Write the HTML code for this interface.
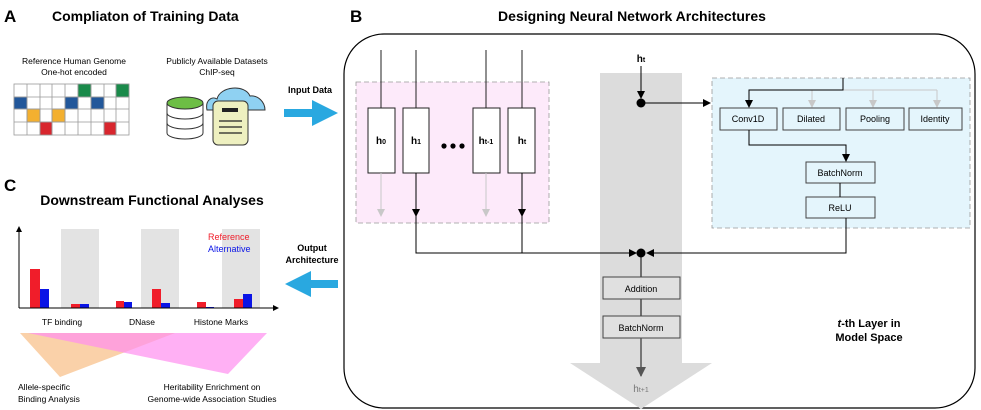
<!DOCTYPE html>
<html><head><meta charset="utf-8"><style>
html,body{margin:0;padding:0;background:#fff;}
svg{display:block;font-family:"Liberation Sans",Arial,sans-serif;}
</style></head><body>
<svg width="981" height="410" viewBox="0 0 981 410" xmlns="http://www.w3.org/2000/svg">
<defs>
<marker id="ab" markerWidth="8" markerHeight="8" refX="7" refY="4" orient="auto" markerUnits="userSpaceOnUse"><path d="M0,0 L8,4 L0,8 z" fill="#000"/></marker>
<marker id="ag" markerWidth="8" markerHeight="8" refX="7" refY="4" orient="auto" markerUnits="userSpaceOnUse"><path d="M0,0 L8,4 L0,8 z" fill="#c8c8c8"/></marker>
<marker id="ad" markerWidth="10" markerHeight="10" refX="9" refY="5" orient="auto" markerUnits="userSpaceOnUse"><path d="M0,0 L10,5 L0,10 z" fill="#555"/></marker>
</defs>

<!-- Panel A -->
<text x="4" y="22" font-size="17" font-weight="bold">A</text>
<text x="52" y="21" font-size="14" font-weight="bold">Compliaton of Training Data</text>
<text x="74" y="64" font-size="8.5" text-anchor="middle">Reference Human Genome</text>
<text x="74" y="75" font-size="8.5" text-anchor="middle">One-hot encoded</text>
<g stroke="#999" stroke-width="0.8">
<rect x="14" y="84" width="115" height="51" fill="#fff"/>
<rect x="78" y="84" width="13" height="13" fill="#1a8a4a"/><rect x="116" y="84" width="13" height="13" fill="#1a8a4a"/>
<rect x="14" y="97" width="13" height="12" fill="#22579a"/><rect x="65" y="97" width="13" height="12" fill="#22579a"/><rect x="91" y="97" width="13" height="12" fill="#22579a"/>
<rect x="27" y="109" width="13" height="13" fill="#f3b030"/><rect x="52" y="109" width="13" height="13" fill="#f3b030"/>
<rect x="40" y="122" width="12" height="13" fill="#d8262e"/><rect x="104" y="122" width="12" height="13" fill="#d8262e"/>
<path d="M27,84V135M40,84V135M52,84V135M65,84V135M78,84V135M91,84V135M104,84V135M116,84V135M14,97H129M14,109H129M14,122H129" fill="none"/>
</g>
<text x="217" y="64" font-size="8.5" text-anchor="middle">Publicly Available Datasets</text>
<text x="217" y="75" font-size="8.5" text-anchor="middle">ChIP-seq</text>
<g stroke="#333" stroke-width="1">
<path d="M167,103 V133 A18,6 0 0 0 203,133 V103" fill="#fff"/>
<path d="M167,113 A18,6 0 0 0 203,113 M167,123 A18,6 0 0 0 203,123" fill="none"/>
<ellipse cx="185" cy="103" rx="18" ry="6" fill="#6dbe45"/>
<path d="M207,110 C205,100 212,96 217,99 C220,86 245,84 250,96 C258,95 265,102 265,110 Z" fill="#8fd1f2"/>
<rect x="213" y="101" width="35" height="44" rx="5" fill="#eef0c0"/>
</g>
<rect x="222" y="108" width="16" height="4" fill="#222"/>
<path d="M219,121H242M219,127H242M219,133H242" stroke="#222" stroke-width="1.3"/>
<text x="310" y="93" font-size="9" font-weight="bold" text-anchor="middle">Input Data</text>
<path d="M284,109 H312 V100 L338,113 L312,126 V117 H284 Z" fill="#29a8e0"/>

<!-- Panel C -->
<text x="4" y="191" font-size="17" font-weight="bold">C</text>
<text x="152" y="205" font-size="14" font-weight="bold" text-anchor="middle">Downstream Functional Analyses</text>
<rect x="61" y="229" width="38" height="79" fill="#e3e3e3"/>
<rect x="141" y="229" width="38" height="79" fill="#e3e3e3"/>
<rect x="222" y="229" width="38" height="79" fill="#e3e3e3"/>
<g fill="#f01d2a">
<rect x="30" y="269" width="10" height="39"/><rect x="71" y="304" width="9" height="4"/><rect x="116" y="301" width="8" height="7"/><rect x="152" y="289" width="9" height="19"/><rect x="197" y="302" width="9" height="6"/><rect x="234" y="299" width="9" height="9"/>
</g>
<g fill="#0a14e6">
<rect x="40" y="289" width="9" height="19"/><rect x="80" y="304" width="9" height="4"/><rect x="124" y="302" width="8" height="6"/><rect x="161" y="303" width="9" height="5"/><rect x="206" y="307" width="8" height="1"/><rect x="243" y="294" width="9" height="14"/>
</g>
<path d="M19,308 V230 M19,308 H274" stroke="#000" stroke-width="1" fill="none"/>
<path d="M16,232 L19,226 L22,232 Z M273,305 L279,308 L273,311 Z" fill="#000"/>
<text x="208" y="240" font-size="9" fill="#f01d2a">Reference</text>
<text x="208" y="252" font-size="9" fill="#0a14e6">Alternative</text>
<text x="62" y="325" font-size="8.5" text-anchor="middle">TF binding</text>
<text x="142" y="325" font-size="8.5" text-anchor="middle">DNase</text>
<text x="221" y="325" font-size="8.5" text-anchor="middle">Histone Marks</text>
<polygon points="20,333 175,333 60,377" fill="#f9c99a" opacity="0.85"/>
<polygon points="28,333 267,333 228,374" fill="#ff8ff0" opacity="0.7"/>
<text x="18" y="390" font-size="8.5">Allele-specific</text>
<text x="18" y="402" font-size="8.5">Binding Analysis</text>
<text x="212" y="390" font-size="8.5" text-anchor="middle">Heritability Enrichment on</text>
<text x="212" y="402" font-size="8.5" text-anchor="middle">Genome-wide Association Studies</text>
<text x="312" y="251" font-size="9" font-weight="bold" text-anchor="middle">Output</text>
<text x="312" y="263" font-size="9" font-weight="bold" text-anchor="middle">Architecture</text>
<path d="M338,280 H311 V271 L285,284 L311,297 V288 H338 Z" fill="#29a8e0"/>

<!-- Panel B -->
<text x="350" y="22" font-size="17" font-weight="bold">B</text>
<text x="632" y="21" font-size="14" font-weight="bold" text-anchor="middle">Designing Neural Network Architectures</text>
<rect x="344" y="34" width="631" height="374" rx="40" fill="#fff" stroke="#000" stroke-width="1.2"/>
<path d="M600,73 H682 V363 H712 L641,409 L570,363 H600 Z" fill="#dcdcdc"/>
<rect x="356" y="82" width="193" height="141" fill="#fdeafa" stroke="#999" stroke-dasharray="5,3" stroke-width="0.8"/>
<rect x="712" y="78" width="258" height="150" fill="#e4f5fc" stroke="#999" stroke-dasharray="5,3" stroke-width="0.8"/>
<g stroke="#222" stroke-width="1" fill="none">
<path d="M381,50 V108 M416,50 V108 M486,50 V108 M522,50 V108"/>
</g>
<g stroke="#222" stroke-width="1" fill="#fff">
<rect x="368" y="108" width="27" height="65"/><rect x="403" y="108" width="26" height="65"/>
<rect x="473" y="108" width="27" height="65"/><rect x="508" y="108" width="27" height="65"/>
</g>
<g font-size="10" font-weight="bold" text-anchor="middle">
<text x="381" y="144">h<tspan font-size="7">0</tspan></text>
<text x="416" y="144">h<tspan font-size="7">1</tspan></text>
<text x="486" y="144">h<tspan font-size="7">t-1</tspan></text>
<text x="522" y="144">h<tspan font-size="7">t</tspan></text>
</g>
<circle cx="444" cy="146" r="2.6"/><circle cx="453" cy="146" r="2.6"/><circle cx="462" cy="146" r="2.6"/>
<path d="M381,173 V216" stroke="#c8c8c8" marker-end="url(#ag)"/>
<path d="M486,173 V216" stroke="#c8c8c8" marker-end="url(#ag)"/>
<path d="M416,173 V216" stroke="#000" marker-end="url(#ab)"/>
<path d="M522,173 V216" stroke="#000" marker-end="url(#ab)"/>
<path d="M522,216 V253" stroke="#000" fill="none"/>
<path d="M416,216 V253 H636" stroke="#000" fill="none" marker-end="url(#ab)"/>
<text x="641" y="62" font-size="10" font-weight="bold" text-anchor="middle">h<tspan font-size="7">t</tspan></text>
<path d="M641,66 V98" stroke="#000" marker-end="url(#ab)"/>
<circle cx="641" cy="103" r="4.5"/>
<path d="M641,103 H710" stroke="#000" marker-end="url(#ab)"/>
<path d="M843,90 H937" stroke="#c8c8c8" fill="none"/>
<path d="M812,90 V107" stroke="#c8c8c8" marker-end="url(#ag)"/>
<path d="M873,90 V107" stroke="#c8c8c8" marker-end="url(#ag)"/>
<path d="M937,90 V107" stroke="#c8c8c8" marker-end="url(#ag)"/>
<path d="M843,78 V90 H749 V107" stroke="#000" fill="none" marker-end="url(#ab)"/>
<g stroke="#444" stroke-width="1" fill="#e4f5fc">
<rect x="720" y="108" width="57" height="22"/><rect x="783" y="108" width="57" height="22"/>
<rect x="846" y="108" width="58" height="22"/><rect x="909" y="108" width="53" height="22"/>
<rect x="806" y="162" width="69" height="21"/><rect x="806" y="197" width="69" height="21"/>
</g>
<g font-size="9" text-anchor="middle">
<text x="748" y="122">Conv1D</text><text x="811" y="122">Dilated</text><text x="875" y="122">Pooling</text><text x="935" y="122">Identity</text>
<text x="840" y="176">BatchNorm</text><text x="840" y="211">ReLU</text>
</g>
<path d="M749,130 V145 H846 V161" stroke="#000" fill="none" marker-end="url(#ab)"/>
<path d="M840,183 V197" stroke="#000"/>
<path d="M846,218 V253 H647" stroke="#000" fill="none" marker-end="url(#ab)"/>
<circle cx="641" cy="253" r="4.5"/>
<path d="M641,253 V277 M641,299 V316" stroke="#000"/>
<g stroke="#444" fill="#e0e0e0">
<rect x="603" y="277" width="77" height="22"/><rect x="603" y="316" width="77" height="22"/>
</g>
<text x="641" y="292" font-size="9" text-anchor="middle">Addition</text>
<text x="641" y="331" font-size="9" text-anchor="middle">BatchNorm</text>
<path d="M641,338 V376" stroke="#555" stroke-width="1.5" marker-end="url(#ad)"/>
<text x="641" y="392" font-size="10" fill="#777" text-anchor="middle">h<tspan font-size="7">t+1</tspan></text>
<text x="869" y="327" font-size="11" font-weight="bold" text-anchor="middle"><tspan font-style="italic">t</tspan>-th Layer in</text>
<text x="869" y="341" font-size="11" font-weight="bold" text-anchor="middle">Model Space</text>
</svg>
</body></html>
